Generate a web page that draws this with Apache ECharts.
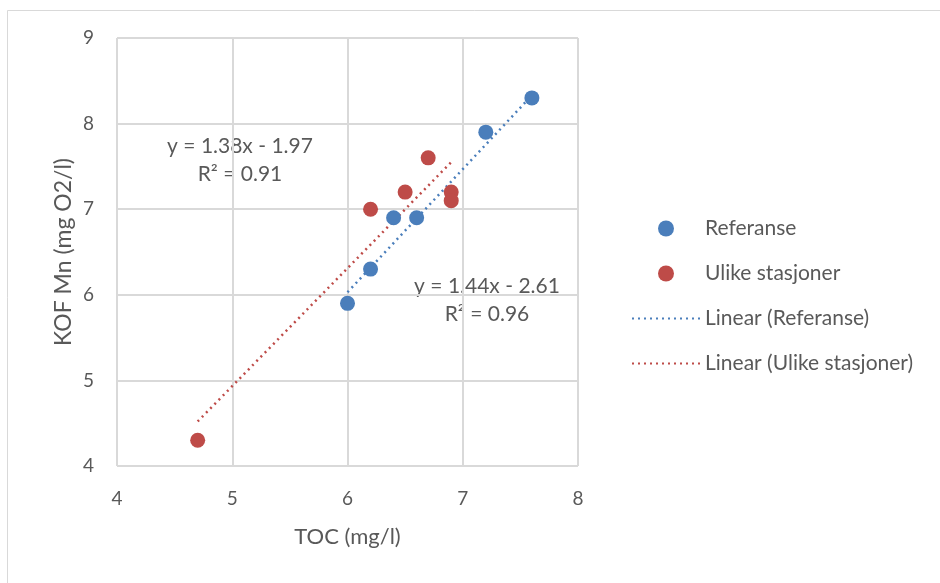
<!DOCTYPE html>
<html>
<head>
<meta charset="utf-8">
<script src="https://cdn.jsdelivr.net/npm/echarts@6/dist/echarts.min.js"></script>
<style>
  html, body { margin: 0; padding: 0; background: #fff; }
  #chart { width: 940px; height: 583px; }
</style>
</head>
<body>
<div id="chart"></div>
<script>
// data
var refPoints = [[6.0, 5.9], [6.2, 6.3], [6.4, 6.9], [6.6, 6.9], [7.2, 7.9], [7.6, 8.3]];
var ulikePoints = [[4.7, 4.3], [6.2, 7.0], [6.5, 7.2], [6.7, 7.6], [6.9, 7.2], [6.9, 7.1]];
var refTrend = [[6.0, 6.03], [7.6, 8.33]];
var ulikeTrend = [[4.7, 4.52], [6.9, 7.55]];
var refEq = ["y = 1.44x - 2.61", "R² = 0.96"];
var ulikeEq = ["y = 1.38x - 1.97", "R² = 0.91"];

var blue = "#4a7ebb";
var red = "#be4b48";
var textColor = "#595959";
var font = "Lato, 'Noto Sans', sans-serif";

var myChart = echarts.init(document.getElementById('chart'));
var option = {
    backgroundColor: "#fff",
    animation: false,
    textStyle: { fontFamily: font, color: textColor },
    graphic: [
        {
            type: "rect",
            shape: { x: 7.5, y: 10.5, width: 940, height: 580 },
            style: { fill: "none", stroke: "#d9d9d9", lineWidth: 1 },
            silent: true
        },
        {
            type: "text", x: 240, y: 146,
            style: { text: ulikeEq[0], font: "21px " + font, fill: textColor, align: "center", verticalAlign: "middle" }
        },
        {
            type: "text", x: 240, y: 174,
            style: { text: ulikeEq[1], font: "21px " + font, fill: textColor, align: "center", verticalAlign: "middle" }
        },
        {
            type: "text", x: 487, y: 286,
            style: { text: refEq[0], font: "21px " + font, fill: textColor, align: "center", verticalAlign: "middle" }
        },
        {
            type: "text", x: 487, y: 314,
            style: { text: refEq[1], font: "21px " + font, fill: textColor, align: "center", verticalAlign: "middle" }
        }
    ],
    grid: {
        left: 117,
        right: 362,
        top: 38,
        bottom: 117
    },
    legend: {
        orient: "vertical",
        left: 626,
        top: 213,
        itemGap: 24,
        itemWidth: 68,
        itemHeight: 16,
        textStyle: { fontSize: 21, color: textColor, fontFamily: font },
        data: [
            { name: "Referanse", icon: "circle" },
            { name: "Ulike stasjoner", icon: "circle" },
            { name: "Linear (Referanse)", itemStyle: { opacity: 0 } },
            { name: "Linear (Ulike stasjoner)", itemStyle: { opacity: 0 } }
        ]
    },
    xAxis: {
        type: "value",
        min: 4,
        max: 8,
        interval: 1,
        name: "TOC (mg/l)",
        nameLocation: "middle",
        nameGap: 60,
        nameTextStyle: { fontSize: 22, color: textColor },
        axisLine: { show: false },
        axisTick: { show: false },
        axisLabel: { fontSize: 19, color: textColor, margin: 23 },
        splitLine: { lineStyle: { color: "#d9d9d9", width: 2 } }
    },
    yAxis: {
        type: "value",
        min: 4,
        max: 9,
        interval: 1,
        name: "KOF Mn (mg O2/l)",
        nameLocation: "middle",
        nameGap: 42,
        nameTextStyle: { fontSize: 23, color: textColor },
        axisLine: { show: false },
        axisTick: { show: false },
        axisLabel: { fontSize: 19, color: textColor, margin: 23 },
        splitLine: { lineStyle: { color: "#d9d9d9", width: 2 } }
    },
    series: [
        {
            name: "Referanse",
            type: "scatter",
            symbolSize: 15,
            itemStyle: { color: blue, opacity: 1 },
            data: refPoints,
            z: 3
        },
        {
            name: "Ulike stasjoner",
            type: "scatter",
            symbolSize: 15,
            itemStyle: { color: red, opacity: 1 },
            data: ulikePoints,
            z: 3
        },
        {
            name: "Linear (Referanse)",
            type: "line",
            showSymbol: false,
            symbol: "none",
            itemStyle: { color: blue },
            lineStyle: { color: blue, width: 2.5, type: [2, 4] },
            data: refTrend,
            z: 2
        },
        {
            name: "Linear (Ulike stasjoner)",
            type: "line",
            showSymbol: false,
            symbol: "none",
            itemStyle: { color: red },
            lineStyle: { color: red, width: 2.5, type: [2, 4] },
            data: ulikeTrend,
            z: 2
        }
    ]
};
myChart.setOption(option);
</script>
</body>
</html>
